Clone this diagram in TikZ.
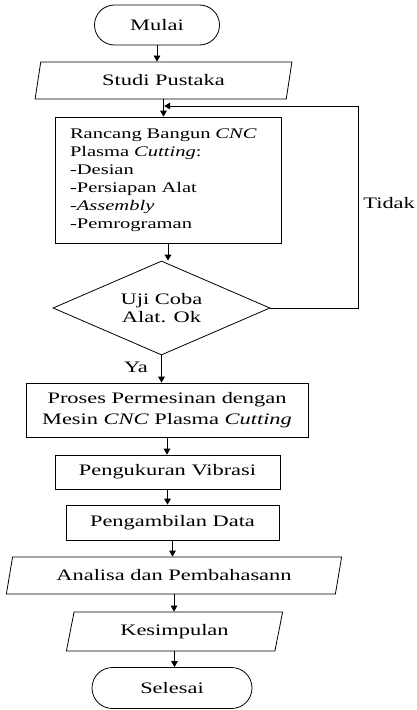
\documentclass[tikz,border=0pt]{standalone}
\usepackage{fontspec}
\setmainfont{Liberation Serif}[FakeStretch=1.4]
\usetikzlibrary{shapes.geometric, shapes.misc, arrows.meta}

\begin{document}
\begin{tikzpicture}[x=0.75pt, y=-0.75pt, >={Triangle[length=4.5pt, width=5pt]},
    font=\fontsize{12}{13.5}\selectfont, line width=0.6pt,
    ujung/.style={draw, rounded rectangle, inner sep=0pt},
    kotak/.style={draw, rectangle, inner sep=0pt, align=center},
    datapar/.style={draw, trapezium, trapezium left angle=#1, trapezium right angle=180-#1,
        trapezium stretches=true, inner sep=0pt},
    pilih/.style={draw, diamond, aspect=2.3, inner sep=0pt, align=center}]
    \useasboundingbox (0,0) rectangle (417,710);

    \node[ujung, minimum width=93.75pt, minimum height=30pt] (mulai) at (157,25) {Mulai};
    \node[datapar=76, minimum width=192.75pt, minimum height=27.75pt] (studi) at (163.5,80.5) {Studi Pustaka};
    \node[draw, rectangle, text width=147pt, align=left, inner xsep=11.25pt, inner ysep=0pt,
        minimum width=169.5pt, minimum height=94.5pt, font=\fontsize{11}{13.5}\selectfont] (rancang) at (168,180)
        {Rancang Bangun \textit{CNC}\\Plasma \textit{Cutting}:\\-Desian\\-Persiapan Alat\\-\textit{Assembly}\\-Pemrograman};
    \node[pilih, minimum width=162.75pt, minimum height=70.5pt] (uji) at (161.5,308) {Uji Coba\\Alat. Ok};
    \node[kotak, minimum width=211.5pt, minimum height=40.5pt, font=\fontsize{12}{16}\selectfont] (proses) at (167,410)
        {Proses Permesinan dengan\\Mesin \textit{CNC} Plasma \textit{Cutting}};
    \node[kotak, minimum width=168.75pt, minimum height=25.5pt] (ukur) at (167.5,472) {Pengukuran Vibrasi};
    \node[kotak, minimum width=159.75pt, minimum height=26.25pt] (ambil) at (172.5,522.5) {Pengambilan Data};
    \node[datapar=68, minimum width=252pt, minimum height=27.75pt] (analisa) at (174,575.5) {Analisa dan Pembahasann};
    \node[datapar=74, minimum width=162.75pt, minimum height=29.25pt] (simpul) at (174.5,631.5) {Kesimpulan};
    \node[ujung, minimum width=120pt, minimum height=30.75pt] (selesai) at (172,688) {Selesai};

    \node[anchor=west, inner xsep=0pt] (tidak) at (363,203) {Tidak};
    \node (ya) at (136,367) {Ya};

    \coordinate (balik) at (358,106);
    \coordinate (masuk) at (studi.south |- balik);

    \draw[->] (mulai.south) -- (mulai.south |- studi.north);
    \draw[->] (studi.south) -- (studi.south |- rancang.north);
    \draw[->] (rancang.south) -- (rancang.south |- uji.north);
    \draw[->] (uji.south) -- (uji.south |- proses.north);
    \draw[->] (proses.south) -- (proses.south |- ukur.north);
    \draw[->] (ukur.south) -- (ukur.south |- ambil.north);
    \draw[->] (ambil.south) -- (ambil.south |- analisa.north);
    \draw[->] (analisa.south) -- (analisa.south |- simpul.north);
    \draw[->] (simpul.south) -- (simpul.south |- selesai.north);
    \draw[->, shorten >=0.5pt] (uji.east) -| (balik) -- (masuk);
\end{tikzpicture}
\end{document}
